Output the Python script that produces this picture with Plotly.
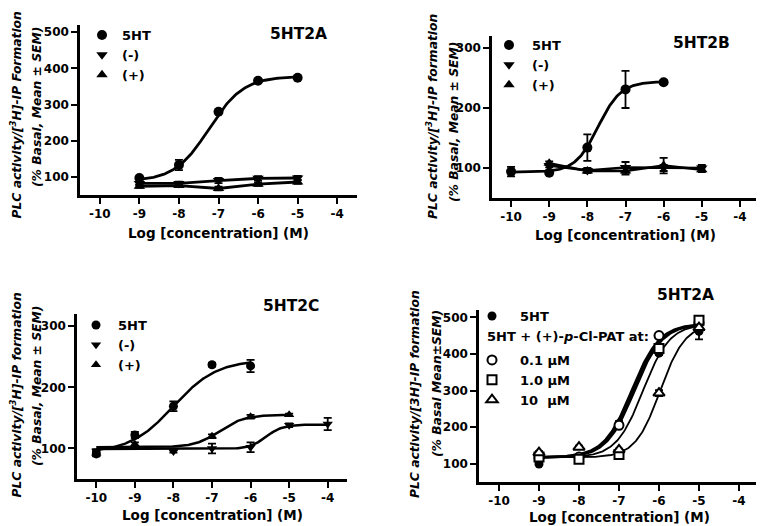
import numpy as np
import plotly.graph_objects as go

# ---------------- data ----------------
log_ticks = [-10, -9, -8, -7, -6, -5, -4]
log_tick_labels = ["-10", "-9", "-8", "-7", "-6", "-5", "-4"]

# Panel A: 5HT2A
a_x = [-9, -8, -7, -6, -5]
a_5ht = [97, 133, 280, 366, 374]
a_5ht_err = [3, 14, 4, 4, 3]
a_neg = [82, 82, 90, 96, 97]
a_neg_err = [4, 5, 7, 6, 6]
a_pos = [74, 76, 68, 80, 86]
a_pos_err = [4, 4, 5, 5, 5]
# fit params: bottom, top, logEC50, hill ; fit x-range
a_fit_5ht = [88, 378, -7.24, 1.0]
a_fit_range = [-9, -5]

# Panel B: 5HT2B
b_x_5ht = [-10, -9, -8, -7, -6]
b_5ht = [94, 92, 134, 231, 243]
b_5ht_err = [8, 3, 22, 31, 3]
b_x = [-9, -8, -7, -6, -5]
b_neg = [104, 96, 101, 100, 100]
b_neg_err = [3, 4, 9, 5, 5]
b_pos = [108, 95, 95, 104, 97]
b_pos_err = [3, 3, 6, 13, 4]
b_fit_5ht = [93, 244, -7.72, 1.45]
b_fit_range = [-10, -6]

# Panel C: 5HT2C
c_x_5ht = [-10, -9, -8, -7, -6]
c_5ht = [91, 122, 169, 237, 235]
c_5ht_err = [4, 5, 8, 3, 10]
c_x_neg = [-10, -8, -7, -6, -5, -4]
c_neg = [96, 95, 100, 102, 138, 140]
c_neg_err = [3, 2, 8, 8, 3, 10]
c_x_pos = [-10, -9, -7, -6, -5]
c_pos = [92, 107, 120, 152, 155]
c_pos_err = [4, 3, 3, 3, 2]
c_fit_5ht = [93, 245, -8.0, 0.77]
c_fit_5ht_range = [-10, -6]
c_fit_neg = [99, 139, -5.6, 2.0]
c_fit_neg_range = [-10, -4]
c_fit_pos = [102, 155, -6.8, 1.35]
c_fit_pos_range = [-10, -5]

# Panel D: 5HT2A with (+)-p-Cl-PAT
d_x = [-9, -8, -7, -6, -5]
d_5ht = [99, 113, 210, 402, 462]
d_5ht_err = [3, 3, 6, 5, 22]
d_01 = [116, 118, 205, 450, 485]
d_01_err = [3, 3, 8, 5, 5]
d_10 = [118, 112, 125, 415, 492]
d_10_err = [3, 3, 3, 8, 10]
d_100 = [130, 145, 138, 293, 472]
d_100_err = [4, 4, 3, 8, 8]
d_fit_5ht = [117, 482, -6.68, 1.25]
d_fit_01 = [117, 482, -6.62, 1.25]
d_fit_10 = [117, 482, -6.40, 1.3]
d_fit_100 = [117, 482, -5.97, 1.4]
d_fit_range = [-9, -5]

# ---------------- helpers ----------------
OFF = 8                     # default page body margin
W, H = 764 - OFF, 526 - OFF
FONT = "DejaVu Sans"


def px(x):
    return (x - OFF) / W


def py(y):
    return 1 - (y - OFF) / H


def hill_curve(params, rng):
    bottom, top, logec50, hill = params
    xs = np.linspace(rng[0], rng[1], 161)
    ys = bottom + (top - bottom) / (1 + 10 ** ((logec50 - xs) * hill))
    return xs, ys


fig = go.Figure()


def add_line(x, y, xa, ya, width=2.5):
    fig.add_trace(go.Scatter(x=x, y=y, mode="lines", xaxis=xa, yaxis=ya,
                             line=dict(color="black", width=width),
                             showlegend=False, hoverinfo="skip"))


def add_pts(x, y, err, xa, ya, name, symbol, legend, size=9, fill="black"):
    fig.add_trace(go.Scatter(
        x=x, y=y, mode="markers", xaxis=xa, yaxis=ya, name=name,
        legend=legend, showlegend=True,
        marker=dict(symbol=symbol, size=size, color=fill,
                    line=dict(color="black", width=2 if fill == "white" else 0)),
        error_y=dict(type="data", array=err, color="black", thickness=1.8,
                     width=4)))


# Panel A
xs, ys = hill_curve(a_fit_5ht, a_fit_range)
add_line(xs, ys, "x", "y", 2.8)
add_line(a_x, a_neg, "x", "y", 2.8)
add_line(a_x, a_pos, "x", "y", 2.8)
add_pts(a_x, a_5ht, a_5ht_err, "x", "y", "5HT", "circle", "legend", 10)
add_pts(a_x, a_neg, a_neg_err, "x", "y", "(-)", "triangle-down", "legend", 10)
add_pts(a_x, a_pos, a_pos_err, "x", "y", "(+)", "triangle-up", "legend", 10)

# Panel B
xs, ys = hill_curve(b_fit_5ht, b_fit_range)
add_line(xs, ys, "x2", "y2", 2.8)
add_line(b_x, b_neg, "x2", "y2", 2.5)
add_line(b_x, b_pos, "x2", "y2", 2.5)
add_pts(b_x_5ht, b_5ht, b_5ht_err, "x2", "y2", "5HT", "circle", "legend2", 10)
add_pts(b_x, b_neg, b_neg_err, "x2", "y2", "(-)", "triangle-down", "legend2", 10)
add_pts(b_x, b_pos, b_pos_err, "x2", "y2", "(+)", "triangle-up", "legend2", 10)

# Panel C
xs, ys = hill_curve(c_fit_5ht, c_fit_5ht_range)
add_line(xs, ys, "x3", "y3", 2.5)
xs, ys = hill_curve(c_fit_neg, c_fit_neg_range)
add_line(xs, ys, "x3", "y3", 2.5)
xs, ys = hill_curve(c_fit_pos, c_fit_pos_range)
add_line(xs, ys, "x3", "y3", 2.5)
add_pts(c_x_5ht, c_5ht, c_5ht_err, "x3", "y3", "5HT", "circle", "legend3", 9)
add_pts(c_x_neg, c_neg, c_neg_err, "x3", "y3", "(-)", "triangle-down", "legend3", 9)
add_pts(c_x_pos, c_pos, c_pos_err, "x3", "y3", "(+)", "triangle-up", "legend3", 9)

# Panel D
for p, w in [(d_fit_5ht, 2.8), (d_fit_01, 2.8), (d_fit_10, 1.8), (d_fit_100, 1.8)]:
    xs, ys = hill_curve(p, d_fit_range)
    add_line(xs, ys, "x4", "y4", w)
add_pts(d_x, d_5ht, d_5ht_err, "x4", "y4", "5HT", "circle", "legend4", 9)
add_pts(d_x, d_01, d_01_err, "x4", "y4", "0.1 µM", "circle", "legend5", 9, "white")
add_pts(d_x, d_10, d_10_err, "x4", "y4", "1.0 µM", "square", "legend5", 9, "white")
add_pts(d_x, d_100, d_100_err, "x4", "y4", "10  µM", "triangle-up", "legend5", 10, "white")

# ---------------- layout ----------------
tickfont = dict(family=FONT, size=12, color="black", weight="bold")


def xdom(l, r):
    return [px(l), px(r)]


def ydom(top, bottom):
    return [py(bottom), py(top)]


def xaxis(dom, anchor):
    return dict(domain=dom, anchor=anchor, range=[-10.5, -3.5],
                tickvals=log_ticks, ticktext=log_tick_labels, showline=True,
                linewidth=2.5, linecolor="black", ticks="outside", ticklen=6,
                tickwidth=2.2, tickcolor="black", showgrid=False,
                zeroline=False, tickfont=tickfont)


def yaxis(dom, anchor, rng, tv):
    return dict(domain=dom, anchor=anchor, range=rng, tickvals=tv,
                showline=True, linewidth=2.5, linecolor="black",
                ticks="outside", ticklen=6, tickwidth=2.2, tickcolor="black",
                showgrid=False, zeroline=False, tickfont=tickfont)


legfont = dict(family=FONT, size=13, color="black", weight="bold")


def legend(xpx, ypx, iw=30):
    return dict(x=px(xpx), y=py(ypx), xanchor="left", yanchor="top",
                bgcolor="rgba(0,0,0,0)", font=legfont, itemwidth=iw,
                borderwidth=0, tracegroupgap=0)


fig.update_layout(
    width=W, height=H, margin=dict(l=0, r=0, t=0, b=0),
    paper_bgcolor="white", plot_bgcolor="white",
    xaxis=xaxis(xdom(80, 357), "y"),
    yaxis=yaxis(ydom(25, 195), "x", [50, 520], [100, 200, 300, 400, 500]),
    xaxis2=xaxis(xdom(492, 759), "y2"),
    yaxis2=yaxis(ydom(36, 198), "x2", [50, 320], [100, 200, 300]),
    xaxis3=xaxis(xdom(77, 347), "y3"),
    yaxis3=yaxis(ydom(314, 479), "x3", [50, 320], [100, 200, 300]),
    xaxis4=xaxis(xdom(479, 759), "y4"),
    yaxis4=yaxis(ydom(310, 482), "x4", [50, 520], [100, 200, 300, 400, 500]),
    legend=legend(82, 20, 30),
    legend2=legend(486, 30, 36),
    legend3=legend(74, 310, 34),
    legend4=legend(464, 301, 46),
    legend5=legend(464, 345, 46),
    showlegend=True,
)

ann = []
titlefont = dict(family=FONT, size=15.5, color="black", weight="bold")
for txt, x, y in [("5HT2A", 298, 34), ("5HT2B", 701, 43), ("5HT2C", 291, 306),
                  ("5HT2A", 685, 295)]:
    ann.append(dict(text=txt, x=px(x), y=py(y), xref="paper", yref="paper",
                    showarrow=False, xanchor="center", yanchor="middle",
                    font=titlefont))

xtfont = dict(family=FONT, size=13.5, color="black", weight="bold")
for x, y in [(218, 233), (625, 235), (212, 515), (619, 517)]:
    ann.append(dict(text="Log [concentration] (M)", x=px(x), y=py(y),
                    xref="paper", yref="paper", showarrow=False,
                    xanchor="center", yanchor="middle", font=xtfont))

yfont = dict(family=FONT, size=12.3, color="black", weight="bold", style="italic")
ytitles = [
    ("PLC activity/[<sup>3</sup>H]-IP Formation", 15.5, 115),
    ("(% Basal, Mean ± SEM)", 37, 107),
    ("PLC activity/[<sup>3</sup>H]-IP formation", 432, 117),
    ("(% Basal, Mean ± SEM)", 454, 122),
    ("PLC activity/[<sup>3</sup>H]-IP formation", 15.5, 395),
    ("(% Basal, Mean ± SEM)", 37, 386),
    ("PLC activity/[3H]-IP formation", 415, 394),
    ("(% Basal Mean±SEM)", 437, 384),
]
for txt, x, y in ytitles:
    ann.append(dict(text=txt, x=px(x), y=py(y), xref="paper", yref="paper",
                    showarrow=False, xanchor="center", yanchor="middle",
                    textangle=-90, font=yfont))

ann.append(dict(text="5HT + (+)-<i>p</i>-Cl-PAT at:", x=px(485), y=py(336),
                xref="paper", yref="paper", showarrow=False, xanchor="left",
                yanchor="middle", font=legfont))

fig.update_layout(annotations=ann)

fig.write_html("out.html")
